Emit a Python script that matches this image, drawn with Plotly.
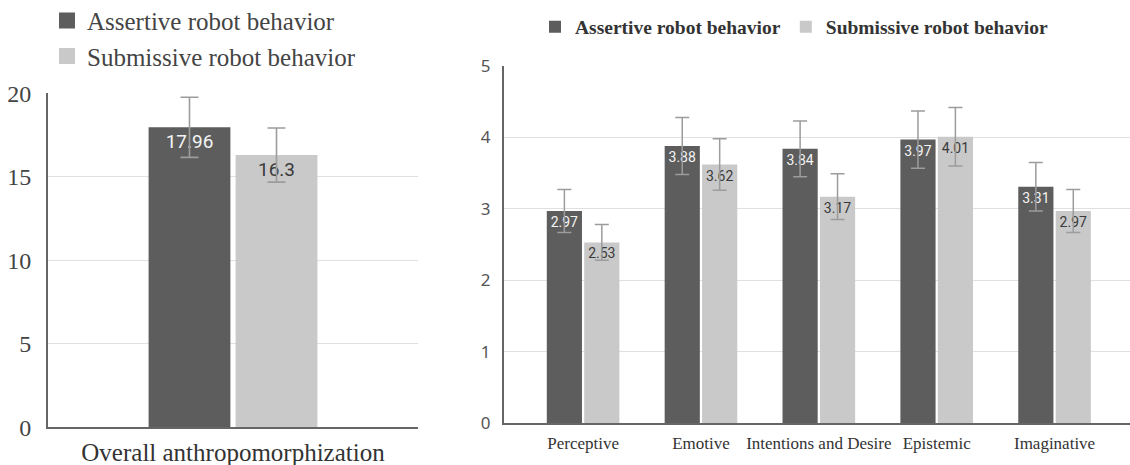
import plotly.graph_objects as go

# ---- data ----
overall_cat = ["Overall anthropomorphization"]
overall_assertive = [17.96]
overall_submissive = [16.3]
overall_assertive_err = [1.8]
overall_submissive_err = [1.62]

dims = ["Perceptive", "Emotive", "Intentions and Desire", "Epistemic", "Imaginative"]
dim_assertive = [2.97, 3.88, 3.84, 3.97, 3.31]
dim_submissive = [2.53, 3.62, 3.17, 4.01, 2.97]
dim_assertive_err = [0.30, 0.40, 0.39, 0.40, 0.34]
dim_submissive_err = [0.25, 0.36, 0.32, 0.41, 0.30]

left_ticks = [0, 5, 10, 15, 20]
right_ticks = [0, 1, 2, 3, 4, 5]

series_names = ["Assertive robot behavior", "Submissive robot behavior"]

DARK = "#5d5d5d"
LIGHT = "#c9c9c9"
ERR = "#9c9c9c"
SERIF = "Liberation Serif, Times New Roman, serif"
SANS = "Roboto, Noto Sans, sans-serif"

fig = go.Figure()

def fmt(v):
    return ("%.2f" % v).rstrip("0").rstrip(".")

# ---- left chart ----
for vals, errs, color, tcol, name in [
    (overall_assertive, overall_assertive_err, DARK, "#f4f4f4", series_names[0]),
    (overall_submissive, overall_submissive_err, LIGHT, "#3a3a3a", series_names[1]),
]:
    fig.add_trace(go.Bar(
        x=overall_cat, y=vals, name=name, marker=dict(color=color, line=dict(width=0)),
        text=[fmt(v) for v in vals], textposition="inside", insidetextanchor="end",
        textangle=0, constraintext="none",
        insidetextfont=dict(family=SANS, size=19, color=tcol),
        error_y=dict(type="data", array=errs, color=ERR, thickness=1.6, width=9),
        xaxis="x", yaxis="y", showlegend=False, hoverinfo="skip",
    ))

# legend entries (left, vertical) with larger square swatches
for color, name in [(DARK, series_names[0]), (LIGHT, series_names[1])]:
    fig.add_trace(go.Scatter(
        x=[None], y=[None], mode="markers", name=name,
        marker=dict(symbol="square", size=16, color=color),
        xaxis="x", yaxis="y", legend="legend", showlegend=True,
    ))

# ---- right chart ----
for vals, errs, color, tcol, name in [
    (dim_assertive, dim_assertive_err, DARK, "#f4f4f4", series_names[0]),
    (dim_submissive, dim_submissive_err, LIGHT, "#3a3a3a", series_names[1]),
]:
    fig.add_trace(go.Bar(
        x=dims, y=vals, name=name, marker=dict(color=color, line=dict(width=0)),
        text=[fmt(v) for v in vals], textposition="inside", insidetextanchor="end",
        textangle=0, constraintext="none",
        insidetextfont=dict(family=SANS, size=14, color=tcol),
        error_y=dict(type="data", array=errs, color=ERR, thickness=1.5, width=7),
        xaxis="x2", yaxis="y2", legend="legend2", showlegend=True, hoverinfo="skip",
    ))

axis_line = dict(showline=True, linecolor="#666666", linewidth=2, mirror=False,
                 automargin=False)

fig.update_layout(
    width=1130, height=465,
    margin=dict(l=0, r=0, t=0, b=0, autoexpand=False),
    paper_bgcolor="white", plot_bgcolor="white",
    barmode="group", bargap=0.365, bargroupgap=0.06,
    xaxis=dict(domain=[48/1130, 418/1130], anchor="y", type="category",
               range=[-0.675, 0.675], showgrid=False, ticks="",
               tickfont=dict(family=SERIF, size=25, color="#333333"),
               ticklabelstandoff=2, zeroline=False, **axis_line),
    yaxis=dict(domain=[0.0811, 0.7994], anchor="x", range=[0, 20],
               tickvals=left_ticks, showgrid=True, gridcolor="#e0e0e0", gridwidth=1,
               ticks="", tickfont=dict(family=SERIF, size=24, color="#444444"),
               ticklabelstandoff=10, zeroline=False, **axis_line),
    xaxis2=dict(domain=[504/1130, 1.0], anchor="y2", type="category",
                range=[-0.671, 4.64], showgrid=False, ticks="",
                tickfont=dict(family=SERIF, size=17, color="#333333"),
                ticklabelstandoff=4, zeroline=False, **axis_line),
    yaxis2=dict(domain=[0.0903, 0.858], anchor="x2", range=[0, 5],
                tickvals=right_ticks, showgrid=True, gridcolor="#e0e0e0", gridwidth=1,
                ticks="", tickfont=dict(family="Noto Sans, sans-serif", size=17, color="#555555"),
                ticklabelstandoff=8, zeroline=False, **axis_line),
    legend=dict(x=47/1130, xanchor="left", y=1.005, yanchor="top", orientation="v",
                font=dict(family=SERIF, size=25, color="#444444"),
                bgcolor="rgba(0,0,0,0)", tracegroupgap=0),
    legend2=dict(x=535/1130, xanchor="left", y=(465-27)/465, yanchor="middle",
                 orientation="h",
                 font=dict(family=SERIF, size=19.5, color="#333333", weight="bold"),
                 bgcolor="rgba(0,0,0,0)"),
)

fig.write_html("out.html", config={"displayModeBar": False},
               post_script="document.body.style.margin='0';document.body.style.overflow='hidden';")
